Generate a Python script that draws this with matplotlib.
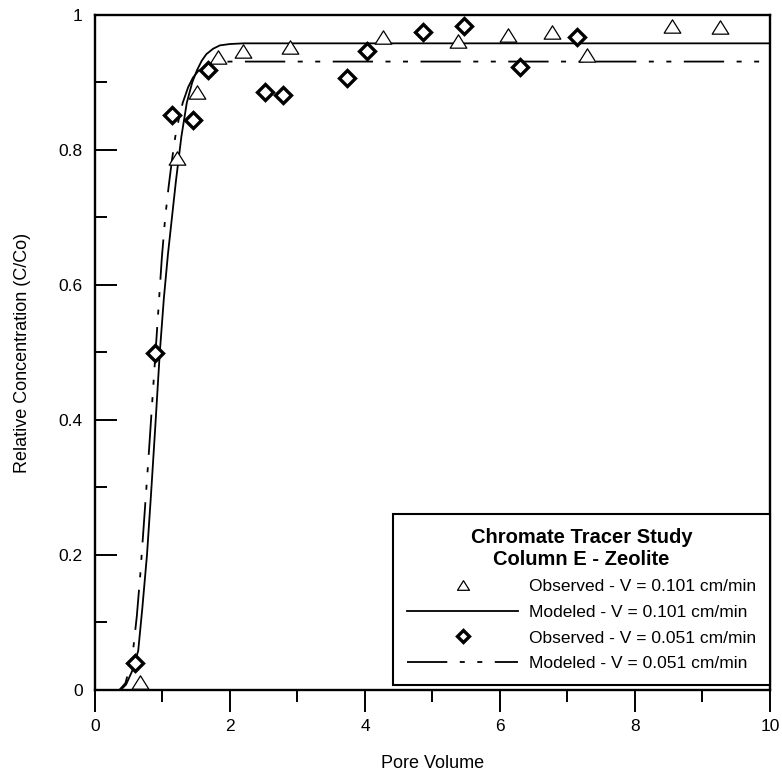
import matplotlib
matplotlib.use("Agg")
import matplotlib.pyplot as plt
from matplotlib.path import Path
from matplotlib.ticker import FixedLocator, FixedFormatter, MultipleLocator

plt.rcParams['font.family'] = ['Liberation Sans', 'DejaVu Sans']
plt.rcParams['lines.scale_dashes'] = False

# Observed breakthrough, V = 0.101 cm/min
obs_fast_pv = [0.67, 1.21, 1.51, 1.82, 2.19, 2.89, 4.27, 5.38, 6.12, 6.77, 7.29, 8.55, 9.26]
obs_fast_c = [0.012, 0.788, 0.886, 0.938, 0.946, 0.953, 0.968, 0.962, 0.970, 0.975, 0.941, 0.983, 0.982]

# Observed breakthrough, V = 0.051 cm/min
obs_slow_pv = [0.59, 0.89, 1.14, 1.45, 1.68, 2.52, 2.79, 3.73, 4.03, 4.86, 5.47, 6.30, 7.14]
obs_slow_c = [0.040, 0.499, 0.852, 0.844, 0.919, 0.886, 0.881, 0.906, 0.946, 0.975, 0.984, 0.923, 0.968]

# Modeled breakthrough curves
mod_fast_pv = [0.0, 0.38, 0.46, 0.55, 0.64, 0.70, 0.77, 0.83, 0.89, 0.96, 1.02, 1.08, 1.14,
               1.20, 1.28, 1.36, 1.44, 1.51, 1.58, 1.65, 1.75, 1.85, 2.0, 2.2, 3.0, 10.0]
mod_fast_c = [0.0, 0.0, 0.008, 0.028, 0.058, 0.12, 0.20, 0.29, 0.385, 0.50, 0.58, 0.645, 0.70,
              0.755, 0.82, 0.870, 0.900, 0.918, 0.932, 0.942, 0.950, 0.955, 0.957, 0.958, 0.958, 0.958]

mod_slow_pv = [0.0, 0.36, 0.45, 0.52, 0.57, 0.62, 0.67, 0.73, 0.79, 0.84, 0.89, 0.94, 0.99,
               1.04, 1.09, 1.14, 1.19, 1.25, 1.30, 1.38, 1.45, 1.53, 1.60, 1.70, 1.80, 2.0, 10.0]
mod_slow_c = [0.0, 0.0, 0.010, 0.035, 0.064, 0.11, 0.17, 0.255, 0.34, 0.415, 0.49, 0.565, 0.64,
              0.70, 0.745, 0.785, 0.82, 0.85, 0.87, 0.893, 0.907, 0.917, 0.923, 0.928, 0.930, 0.931, 0.931]

x_ticks = [0, 2, 4, 6, 8, 10]
x_tick_labels = ["0", "2", "4", "6", "8", "10"]
y_ticks = [0, 0.2, 0.4, 0.6, 0.8, 1.0]
y_tick_labels = ["0", "0.2", "0.4", "0.6", "0.8", "1"]

legend_title = "Chromate Tracer Study\nColumn E - Zeolite"
labels = ["Observed - V = 0.101 cm/min", "Modeled - V = 0.101 cm/min",
          "Observed - V = 0.051 cm/min", "Modeled - V = 0.051 cm/min"]

# flattened open triangle
tri = Path([(-1, -0.8), (1, -0.8), (0, 0.8), (-1, -0.8)],
           [Path.MOVETO, Path.LINETO, Path.LINETO, Path.CLOSEPOLY])

fig = plt.figure(figsize=(7.82, 7.77), dpi=100)
ax = fig.add_axes([0.1215, 0.112, 0.863, 0.8687])

h_obs_fast, = ax.plot(obs_fast_pv, obs_fast_c, linestyle='none', marker=tri, ms=12,
                      mfc='white', mec='black', mew=0.9, clip_on=False, zorder=4)
h_mod_fast, = ax.plot(mod_fast_pv, mod_fast_c, color='black', lw=1.3, zorder=3)
h_obs_slow, = ax.plot(obs_slow_pv, obs_slow_c, linestyle='none', marker='D', ms=8.6,
                      mfc='white', mec='black', mew=2.4, clip_on=False, zorder=5)
h_mod_slow, = ax.plot(mod_slow_pv, mod_slow_c, color='black', lw=1.3, zorder=3,
                      dashes=(29, 9, 3.6, 9, 3.6, 9))

ax.set_xlim(0, 10)
ax.set_ylim(0, 1)

ax.xaxis.set_major_locator(FixedLocator(x_ticks))
ax.xaxis.set_major_formatter(FixedFormatter(x_tick_labels))
ax.xaxis.set_minor_locator(MultipleLocator(1))
ax.yaxis.set_major_locator(FixedLocator(y_ticks))
ax.yaxis.set_major_formatter(FixedFormatter(y_tick_labels))
ax.yaxis.set_minor_locator(MultipleLocator(0.1))

ax.tick_params(axis='x', which='major', direction='out', length=16, width=1.4,
               labelsize=12.5, pad=5)
ax.tick_params(axis='x', which='minor', direction='out', length=8.5, width=1.4)
ax.tick_params(axis='y', which='major', direction='in', length=16, width=1.4,
               labelsize=12.5, pad=9)
ax.tick_params(axis='y', which='minor', direction='in', length=8.5, width=1.4)

for side in ['left', 'bottom', 'right', 'top']:
    ax.spines[side].set_linewidth(1.7)

ax.set_xlabel("Pore Volume", fontsize=13, labelpad=15)
ax.set_ylabel("Relative Concentration (C/Co)", fontsize=13, labelpad=20)

leg = ax.legend([h_obs_fast, h_mod_fast, h_obs_slow, h_mod_slow], labels,
                title=legend_title, title_fontproperties={'weight': 'bold', 'size': 14.5},
                loc='lower right', bbox_to_anchor=(1.0, 0.0074), borderaxespad=0,
                fontsize=12.5, handlelength=6.4, handletextpad=0.6, labelspacing=0.6,
                borderpad=0.8, markerscale=0.72, fancybox=False, framealpha=1,
                edgecolor='black')
leg.get_frame().set_linewidth(1.5)
leg.get_title().set_multialignment('center')

fig.savefig("out.png", dpi=100)
